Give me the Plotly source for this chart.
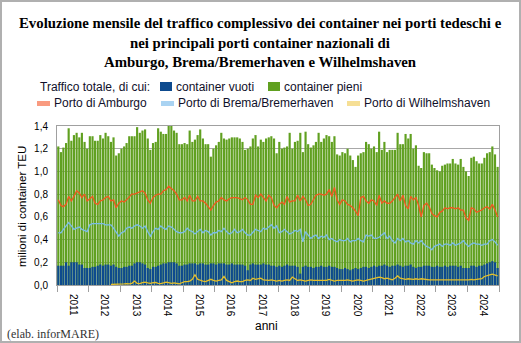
import pandas as pd
import plotly.graph_objects as go

# ---------------- DATA (milioni di TEU, mensile, gen 2011 - dic 2024) ----------------
mesi = pd.date_range("2011-01-01", periods=168, freq="MS")
anni = [str(a) for a in range(2011, 2025)]

traffico_totale = [
    1.22, 1.17, 1.21, 1.25, 1.38, 1.27, 1.32, 1.34, 1.30, 1.34, 1.26, 1.20,  # 2011
    1.31, 1.31, 1.27, 1.27, 1.32, 1.29, 1.34, 1.31, 1.26, 1.30, 1.14, 1.16,  # 2012
    1.20, 1.22, 1.25, 1.31, 1.31, 1.31, 1.39, 1.34, 1.36, 1.37, 1.29, 1.19,  # 2013
    1.25, 1.26, 1.38, 1.35, 1.33, 1.33, 1.40, 1.41, 1.36, 1.34, 1.24, 1.24,  # 2014
    1.25, 1.24, 1.36, 1.26, 1.28, 1.32, 1.37, 1.29, 1.24, 1.24, 1.13, 1.20,  # 2015
    1.23, 1.26, 1.34, 1.29, 1.28, 1.29, 1.30, 1.30, 1.30, 1.29, 1.26, 1.19,  # 2016
    1.20, 1.22, 1.29, 1.32, 1.22, 1.28, 1.26, 1.29, 1.30, 1.31, 1.29, 1.16,  # 2017
    1.26, 1.20, 1.21, 1.22, 1.34, 1.20, 1.26, 1.27, 1.34, 1.17, 1.35, 1.24,  # 2018
    1.21, 1.23, 1.26, 1.34, 1.26, 1.29, 1.32, 1.31, 1.26, 1.31, 1.15, 1.14,  # 2019
    1.17, 1.16, 1.20, 1.14, 1.10, 1.04, 1.14, 1.16, 1.17, 1.26, 1.24, 1.20,  # 2020
    1.22, 1.17, 1.35, 1.19, 1.26, 1.17, 1.19, 1.19, 1.19, 1.34, 1.24, 1.24,  # 2021
    1.33, 1.29, 1.33, 1.20, 1.23, 1.05, 1.03, 1.17, 1.16, 1.16, 1.06, 1.03,  # 2022
    1.01, 1.00, 1.05, 1.06, 1.07, 1.07, 1.11, 1.07, 1.06, 1.11, 1.04, 1.00,  # 2023
    0.96, 1.12, 1.13, 1.09, 1.07, 1.07, 1.12, 1.16, 1.17, 1.22, 1.15, 1.04,  # 2024
]

container_vuoti = [
    0.17, 0.17, 0.17, 0.20, 0.17, 0.20, 0.20, 0.20, 0.18, 0.18, 0.15, 0.15,  # 2011
    0.15, 0.16, 0.16, 0.17, 0.18, 0.17, 0.18, 0.18, 0.17, 0.18, 0.16, 0.15,  # 2012
    0.15, 0.16, 0.16, 0.17, 0.17, 0.19, 0.20, 0.20, 0.19, 0.18, 0.15, 0.14,  # 2013
    0.16, 0.16, 0.17, 0.18, 0.19, 0.19, 0.20, 0.20, 0.20, 0.19, 0.17, 0.17,  # 2014
    0.18, 0.18, 0.19, 0.19, 0.19, 0.18, 0.19, 0.19, 0.18, 0.18, 0.19, 0.19,  # 2015
    0.18, 0.19, 0.19, 0.19, 0.18, 0.18, 0.19, 0.18, 0.18, 0.18, 0.18, 0.17,  # 2016
    0.13, 0.18, 0.19, 0.18, 0.18, 0.18, 0.19, 0.18, 0.18, 0.17, 0.17, 0.16,  # 2017
    0.17, 0.16, 0.17, 0.18, 0.17, 0.17, 0.17, 0.16, 0.10, 0.16, 0.17, 0.16,  # 2018
    0.16, 0.15, 0.16, 0.16, 0.17, 0.16, 0.16, 0.17, 0.16, 0.16, 0.15, 0.14,  # 2019
    0.14, 0.15, 0.14, 0.13, 0.14, 0.15, 0.14, 0.15, 0.16, 0.16, 0.15, 0.16,  # 2020
    0.17, 0.16, 0.17, 0.17, 0.18, 0.17, 0.16, 0.17, 0.17, 0.18, 0.17, 0.16,  # 2021
    0.17, 0.17, 0.18, 0.16, 0.15, 0.16, 0.16, 0.17, 0.17, 0.17, 0.16, 0.16,  # 2022
    0.17, 0.16, 0.16, 0.17, 0.16, 0.17, 0.17, 0.17, 0.16, 0.17, 0.15, 0.15,  # 2023
    0.15, 0.17, 0.17, 0.16, 0.17, 0.17, 0.18, 0.19, 0.20, 0.21, 0.20, 0.15,  # 2024
]

porto_amburgo = [
    0.75, 0.70, 0.69, 0.71, 0.78, 0.74, 0.78, 0.83, 0.81, 0.77, 0.80, 0.74,  # 2011
    0.76, 0.78, 0.72, 0.71, 0.74, 0.75, 0.77, 0.78, 0.74, 0.75, 0.68, 0.72,  # 2012
    0.74, 0.73, 0.75, 0.78, 0.80, 0.80, 0.81, 0.82, 0.83, 0.81, 0.75, 0.72,  # 2013
    0.77, 0.79, 0.80, 0.80, 0.83, 0.84, 0.87, 0.85, 0.83, 0.80, 0.75, 0.75,  # 2014
    0.77, 0.74, 0.79, 0.74, 0.74, 0.78, 0.74, 0.74, 0.72, 0.69, 0.66, 0.70,  # 2015
    0.73, 0.74, 0.77, 0.75, 0.74, 0.76, 0.77, 0.77, 0.77, 0.76, 0.75, 0.77,  # 2016
    0.75, 0.71, 0.71, 0.79, 0.77, 0.80, 0.77, 0.74, 0.79, 0.77, 0.70, 0.68,  # 2017
    0.71, 0.73, 0.71, 0.78, 0.73, 0.74, 0.74, 0.79, 0.74, 0.78, 0.75, 0.70,  # 2018
    0.71, 0.76, 0.79, 0.80, 0.80, 0.79, 0.80, 0.84, 0.78, 0.86, 0.75, 0.71,  # 2019
    0.75, 0.74, 0.71, 0.70, 0.68, 0.65, 0.61, 0.77, 0.78, 0.74, 0.72, 0.75,  # 2020
    0.74, 0.70, 0.79, 0.72, 0.74, 0.72, 0.72, 0.74, 0.77, 0.80, 0.74, 0.79,  # 2021
    0.70, 0.67, 0.78, 0.75, 0.77, 0.70, 0.60, 0.70, 0.72, 0.69, 0.63, 0.61,  # 2022
    0.60, 0.64, 0.65, 0.68, 0.67, 0.68, 0.68, 0.67, 0.68, 0.66, 0.66, 0.59,  # 2023
    0.57, 0.68, 0.67, 0.64, 0.65, 0.66, 0.68, 0.69, 0.67, 0.71, 0.66, 0.60,  # 2024
]

porto_brema_bremerhaven = [
    0.46, 0.46, 0.49, 0.52, 0.55, 0.52, 0.49, 0.50, 0.51, 0.49, 0.48, 0.47,  # 2011
    0.53, 0.54, 0.54, 0.54, 0.54, 0.54, 0.53, 0.53, 0.53, 0.50, 0.46, 0.43,  # 2012
    0.46, 0.47, 0.50, 0.51, 0.50, 0.52, 0.53, 0.52, 0.50, 0.52, 0.47, 0.43,  # 2013
    0.47, 0.50, 0.49, 0.52, 0.50, 0.49, 0.52, 0.51, 0.49, 0.47, 0.46, 0.46,  # 2014
    0.47, 0.50, 0.48, 0.47, 0.45, 0.47, 0.49, 0.46, 0.48, 0.47, 0.44, 0.46,  # 2015
    0.46, 0.48, 0.47, 0.50, 0.47, 0.45, 0.46, 0.49, 0.46, 0.47, 0.49, 0.46,  # 2016
    0.44, 0.44, 0.46, 0.49, 0.48, 0.47, 0.50, 0.49, 0.51, 0.53, 0.50, 0.52,  # 2017
    0.46, 0.47, 0.49, 0.47, 0.45, 0.46, 0.48, 0.47, 0.49, 0.38, 0.47, 0.44,  # 2018
    0.41, 0.43, 0.44, 0.41, 0.43, 0.42, 0.44, 0.40, 0.41, 0.39, 0.38, 0.40,  # 2019
    0.39, 0.39, 0.41, 0.38, 0.39, 0.39, 0.41, 0.39, 0.38, 0.44, 0.43, 0.44,  # 2020
    0.41, 0.41, 0.42, 0.44, 0.46, 0.41, 0.43, 0.39, 0.37, 0.41, 0.39, 0.41,  # 2021
    0.38, 0.39, 0.37, 0.36, 0.39, 0.37, 0.39, 0.36, 0.34, 0.33, 0.31, 0.34,  # 2022
    0.35, 0.36, 0.34, 0.36, 0.36, 0.35, 0.37, 0.35, 0.36, 0.37, 0.39, 0.36,  # 2023
    0.34, 0.36, 0.37, 0.36, 0.36, 0.35, 0.36, 0.36, 0.39, 0.40, 0.38, 0.35,  # 2024
]

porto_wilhelmshaven = [
    None, None, None, None, None, None, None, None, None, None, None, None,  # 2011
    None, None, None, None, None, None, None, None, 0.005, 0.005, 0.007, 0.008,  # 2012
    0.008, 0.010, 0.012, 0.010, 0.015, 0.035, 0.015, 0.012, 0.020, 0.025, 0.018, 0.015,  # 2013
    0.020, 0.022, 0.015, 0.012, 0.018, 0.025, 0.020, 0.015, 0.018, 0.012, 0.010, 0.020,  # 2014
    0.030, 0.030, 0.035, 0.050, 0.090, 0.050, 0.040, 0.035, 0.030, 0.040, 0.050, 0.040,  # 2015
    0.035, 0.040, 0.045, 0.075, 0.040, 0.030, 0.020, 0.030, 0.035, 0.030, 0.030, 0.040,  # 2016
    0.045, 0.040, 0.060, 0.050, 0.055, 0.060, 0.045, 0.040, 0.040, 0.045, 0.040, 0.035,  # 2017
    0.040, 0.035, 0.040, 0.045, 0.040, 0.070, 0.055, 0.040, 0.045, 0.040, 0.035, 0.040,  # 2018
    0.045, 0.040, 0.040, 0.045, 0.040, 0.045, 0.040, 0.050, 0.040, 0.035, 0.040, 0.040,  # 2019
    0.035, 0.040, 0.045, 0.040, 0.035, 0.040, 0.045, 0.040, 0.035, 0.040, 0.045, 0.050,  # 2020
    0.055, 0.060, 0.070, 0.065, 0.055, 0.060, 0.050, 0.045, 0.060, 0.080, 0.060, 0.055,  # 2021
    0.050, 0.055, 0.050, 0.050, 0.055, 0.050, 0.055, 0.050, 0.050, 0.045, 0.045, 0.045,  # 2022
    0.045, 0.040, 0.045, 0.045, 0.040, 0.045, 0.045, 0.040, 0.045, 0.045, 0.040, 0.045,  # 2023
    0.045, 0.050, 0.045, 0.050, 0.050, 0.055, 0.075, 0.085, 0.090, 0.095, 0.085, 0.080,  # 2024
]

titolo_righe = [
    "Evoluzione mensile del traffico complessivo dei container nei porti tedeschi e",
    "nei principali porti container nazionali di",
    "Amburgo, Brema/Bremerhaven e Wilhelmshaven",
]

# ---------------- STYLE ----------------
W, H = 521, 343
ML, MR, MT, MB = 57, 22, 126, 58
PW, PH = W - ML - MR, H - MT - MB

C_GREEN = "#60a020"
C_BLUE = "#0d4a8e"
C_ORANGE = "#f0591e"
C_LBLUE = "#79bde6"
C_YELLOW = "#e6bf2a"
SANS = "Liberation Sans, Arial, sans-serif"
SERIF = "Liberation Serif, Times New Roman, serif"


def px(x):
    return (x - ML) / PW


def py(y):
    return (H - MB - y) / PH


x_mesi = mesi + pd.Timedelta(days=15)
bar_w = 25 * 86400000

fig = go.Figure()
fig.add_trace(go.Bar(x=x_mesi, y=traffico_totale, width=bar_w, marker_color=C_GREEN,
                     marker_line_width=0, name="container pieni", showlegend=False))
fig.add_trace(go.Bar(x=x_mesi, y=container_vuoti, width=bar_w, marker_color=C_BLUE,
                     marker_line_width=0, name="container vuoti", showlegend=False))
fig.add_trace(go.Scatter(x=x_mesi, y=porto_amburgo, mode="lines", line=dict(color=C_ORANGE, width=1.3),
                         name="Porto di Amburgo", showlegend=False))
fig.add_trace(go.Scatter(x=x_mesi, y=porto_brema_bremerhaven, mode="lines", line=dict(color=C_LBLUE, width=1.3),
                         name="Porto di Brema/Bremerhaven", showlegend=False))
fig.add_trace(go.Scatter(x=x_mesi, y=porto_wilhelmshaven, mode="lines", line=dict(color=C_YELLOW, width=1.3),
                         name="Porto di Wilhelmshaven", showlegend=False))

fig.update_layout(
    width=W, height=H,
    margin=dict(l=ML, r=MR, t=MT, b=MB),
    paper_bgcolor="white", plot_bgcolor="white",
    barmode="overlay",
    separators=",.",
    xaxis=dict(type="date", range=["2011-01-01", "2025-01-01"], dtick="M12", tick0="2011-01-01",
               ticklabelmode="period", tickformat="%Y", tickangle=90,
               ticks="outside", ticklen=6, tickcolor="#a0a0a0",
               showgrid=False, showline=True, linecolor="#a0a0a0", mirror=True,
               tickfont=dict(family=SANS, size=10, color="black")),
    yaxis=dict(range=[0, 1.4], dtick=0.2, tickformat=".1f", showgrid=True, gridcolor="#a8a8a8",
               gridwidth=1, showline=True, linecolor="#a0a0a0", mirror=True, ticks="",
               zeroline=False, ticklabelstandoff=6,
               tickfont=dict(family=SANS, size=10, color="black")),
    showlegend=False,
)

shapes = []
annotations = []

# title (three centred lines)
for riga, yc in zip(titolo_righe, [23, 43, 62]):
    annotations.append(dict(text="<b>" + riga + "</b>", x=px(260), y=py(yc), xref="paper", yref="paper",
                            xanchor="center", yanchor="middle", showarrow=False,
                            font=dict(family=SERIF, size=14.8, color="black")))

# manual legend row 1
annotations.append(dict(text="Traffico totale, di cui:", x=px(38), y=py(87), xref="paper", yref="paper",
                        xanchor="left", yanchor="middle", showarrow=False,
                        font=dict(family=SANS, size=12, color="#10102a")))
for x0, col, lab in [(160, C_BLUE, "container vuoti"), (268, C_GREEN, "container pieni")]:
    shapes.append(dict(type="rect", xref="paper", yref="paper", x0=px(x0), x1=px(x0 + 12),
                       y0=py(91), y1=py(82), fillcolor=col, line=dict(width=0)))
    annotations.append(dict(text=lab, x=px(x0 + 14), y=py(87), xref="paper", yref="paper",
                            xanchor="left", yanchor="middle", showarrow=False,
                            font=dict(family=SANS, size=12, color="#10102a")))
# manual legend row 2
for x0, col, lab in [(37, "#f99b80", "Porto di Amburgo"), (161, "#a9d3f2", "Porto di Brema/Bremerhaven"),
                     (347, "#f6df95", "Porto di Wilhelmshaven")]:
    shapes.append(dict(type="line", xref="paper", yref="paper", x0=px(x0), x1=px(x0 + 13),
                       y0=py(103.5), y1=py(103.5), line=dict(color=col, width=5)))
    annotations.append(dict(text=lab, x=px(x0 + 15), y=py(103.5), xref="paper", yref="paper",
                            xanchor="left", yanchor="middle", showarrow=False,
                            font=dict(family=SANS, size=12, color="#10102a")))

# axis titles
annotations.append(dict(text="milioni di container TEU", x=px(22), y=py(207), xref="paper", yref="paper",
                        textangle=-90, showarrow=False, xanchor="center", yanchor="middle",
                        font=dict(family=SANS, size=11.5, color="black")))
annotations.append(dict(text="anni", x=px(266), y=py(326), xref="paper", yref="paper",
                        showarrow=False, xanchor="center", yanchor="middle",
                        font=dict(family=SANS, size=12, color="black")))
annotations.append(dict(text="(elab. inforMARE)", x=px(5), y=py(334), xref="paper", yref="paper",
                        showarrow=False, xanchor="left", yanchor="middle",
                        font=dict(family=SERIF, size=12, color="#333333")))

# outer frame
shapes.append(dict(type="rect", xref="paper", yref="paper", x0=px(1), x1=px(520), y0=py(342), y1=py(1),
                   line=dict(color="#b0b0b0", width=2), fillcolor="rgba(0,0,0,0)", layer="above"))

fig.update_layout(shapes=shapes, annotations=annotations)
fig.write_html("out.html")
